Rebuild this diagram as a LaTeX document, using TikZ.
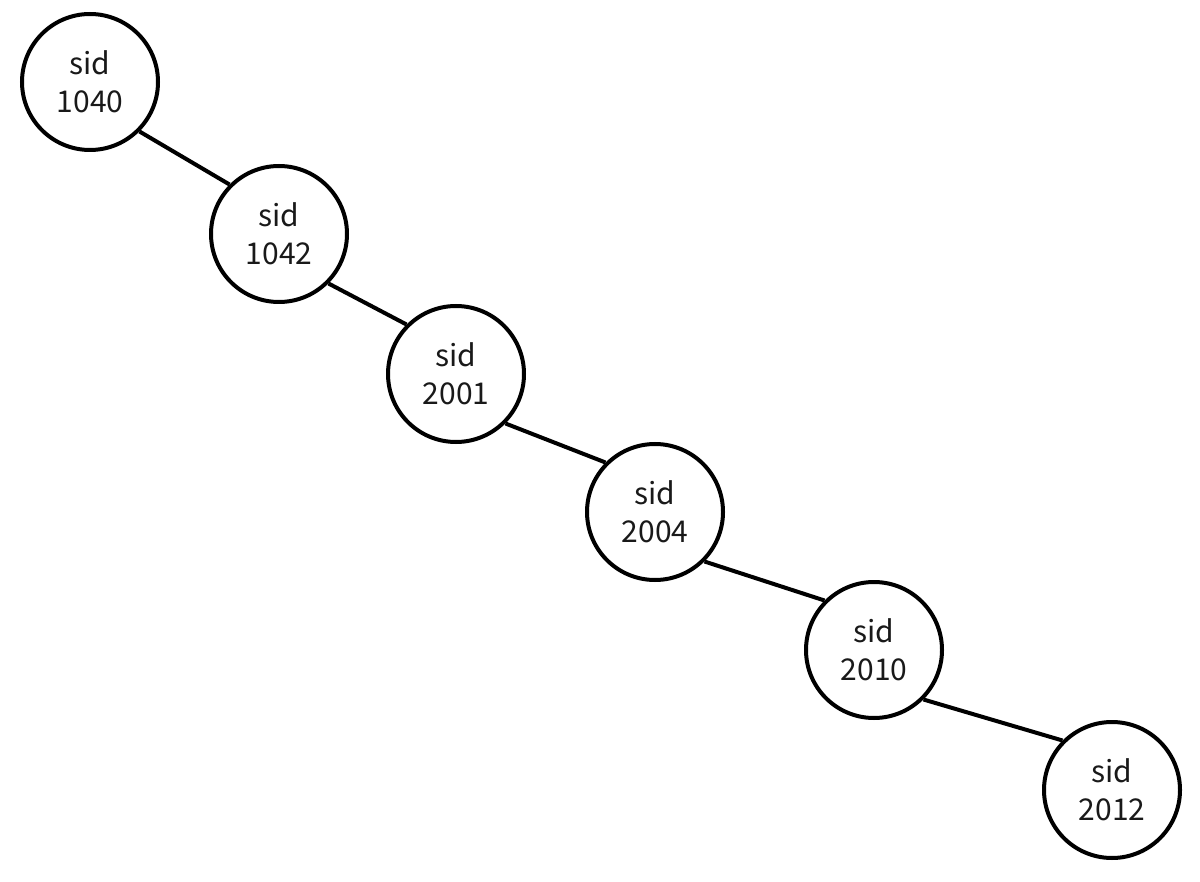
\documentclass[tikz,border=0pt]{standalone}
\usepackage{fontspec}
\setmainfont{Noto Sans CJK JP}
\begin{document}
\begin{tikzpicture}[x=1pt,y=-1pt,
  sidnode/.style={circle,draw=black,line width=4pt,minimum size=136pt,inner sep=0pt,
    align=center,font=\fontsize{30}{38}\selectfont,text=black!90},
  link/.style={line width=4pt,black}]
\useasboundingbox (0,0) rectangle (1200,882);
\node[sidnode] (a) at (90,82) {sid\\1040};
\node[sidnode] (b) at (279,234) {sid\\1042};
\node[sidnode] (c) at (456,374) {sid\\2001};
\node[sidnode] (d) at (655,512) {sid\\2004};
\node[sidnode] (e) at (874,650) {sid\\2010};
\node[sidnode] (f) at (1112,790) {sid\\2012};
\draw[link] (a.south east) -- (b.north west);
\draw[link] (b.south east) -- (c.north west);
\draw[link] (c.south east) -- (d.north west);
\draw[link] (d.south east) -- (e.north west);
\draw[link] (e.south east) -- (f.north west);
\end{tikzpicture}
\end{document}
